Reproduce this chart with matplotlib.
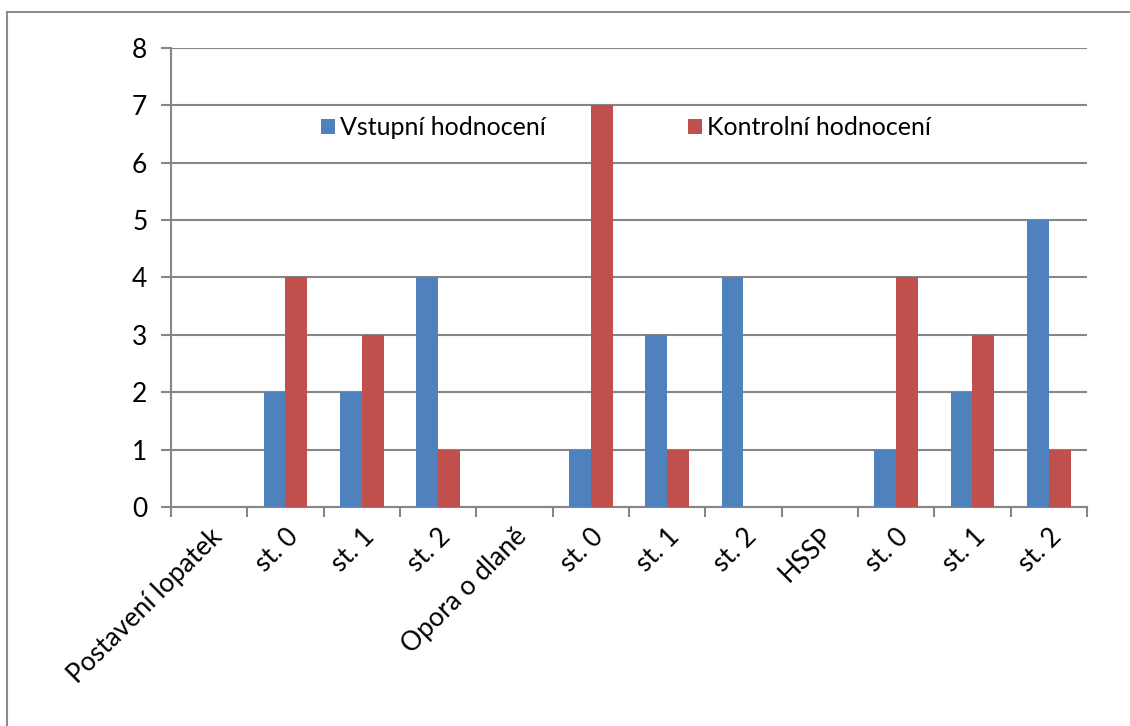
import numpy as np
import matplotlib.pyplot as plt
from matplotlib.lines import Line2D

categories = ["Postavení lopatek", "st. 0", "st. 1", "st. 2",
              "Opora o dlaně", "st. 0", "st. 1", "st. 2",
              "HSSP", "st. 0", "st. 1", "st. 2"]
vstupni = [0, 2, 2, 4, 0, 1, 3, 4, 0, 1, 2, 5]
kontrolni = [0, 4, 3, 1, 0, 7, 1, 0, 0, 4, 3, 1]
series_names = ["Vstupní hodnocení", "Kontrolní hodnocení"]

plt.rcParams['font.family'] = ['Lato', 'DejaVu Sans']

fig = plt.figure(figsize=(11.3, 7.26), dpi=100)
ax = fig.add_axes([0.1513, 0.3017, 0.8106, 0.6322])

grid_col = '#868686'
x = np.arange(len(categories))
w = 0.286
ax.bar(x - w / 2, vstupni, w, color='#4F81BD', label=series_names[0], zorder=3)
ax.bar(x + w / 2, kontrolni, w, color='#C0504D', label=series_names[1], zorder=3)

ax.set_xlim(-0.5, len(categories) - 0.5)
ax.set_ylim(0, 8)
ax.set_yticks(range(0, 9))
ax.yaxis.grid(True, color=grid_col, linewidth=1.5, zorder=0)
ax.set_axisbelow(True)

ax.set_xticks(x)
ax.set_xticklabels(categories, rotation=45, ha='right', rotation_mode='anchor')
ax.tick_params(axis='x', which='major', length=0, pad=12)
ax.set_xticks(np.arange(-0.5, len(categories)), minor=True)
ax.tick_params(axis='x', which='minor', length=7, width=1.5, color=grid_col)
ax.tick_params(axis='y', length=7, width=1.5, color=grid_col, pad=10)
ax.tick_params(labelsize=19)

for s in ['top', 'right']:
    ax.spines[s].set_visible(False)
for s in ['left', 'bottom']:
    ax.spines[s].set_color(grid_col)
    ax.spines[s].set_linewidth(1.5)

fig.legend(loc='center', bbox_to_anchor=(0.554, 0.824), ncol=2, frameon=False,
           fontsize=18, handlelength=0.56, handleheight=0.56, handletextpad=0.2,
           columnspacing=5.7)

# outer chart frame (only left and top visible)
fig.add_artist(Line2D([0.0062, 0.0062], [0, 0.984], color='#8c8c8c', lw=1.5))
fig.add_artist(Line2D([0.0062, 1], [0.984, 0.984], color='#8c8c8c', lw=1.5))

fig.savefig('out.png', dpi=100)
